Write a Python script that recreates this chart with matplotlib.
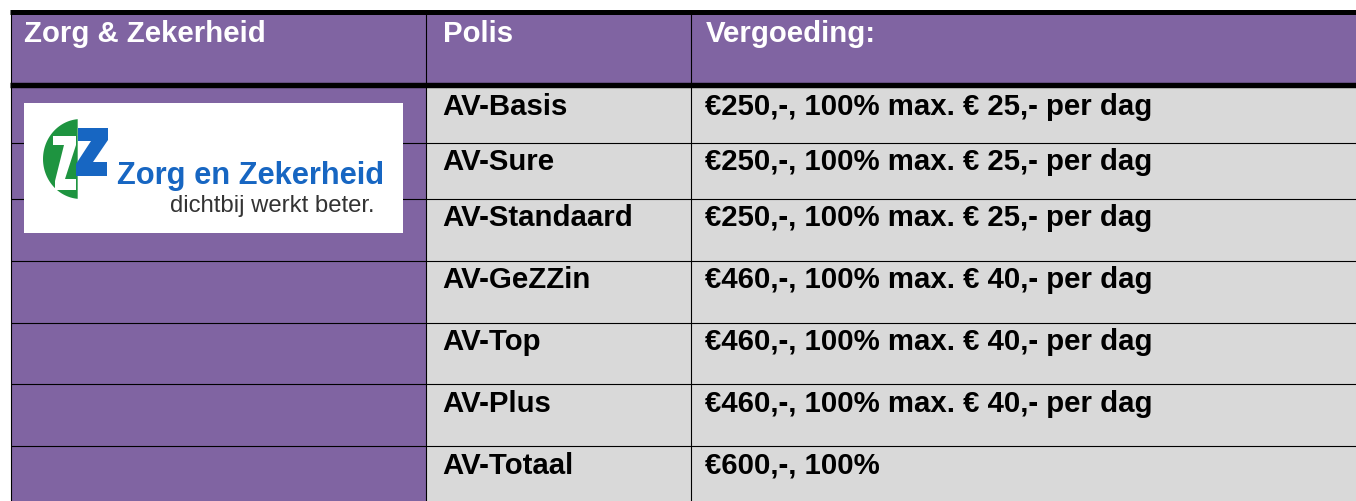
import matplotlib
matplotlib.use("Agg")
import matplotlib.pyplot as plt
from matplotlib.patches import Rectangle, Polygon
import numpy as np

# ---- data ----
headers = ["Zorg & Zekerheid", "Polis", "Vergoeding:"]
polissen = ["AV-Basis", "AV-Sure", "AV-Standaard", "AV-GeZZin", "AV-Top", "AV-Plus", "AV-Totaal"]
vergoedingen = [
    "€250,-, 100% max. € 25,- per dag",
    "€250,-, 100% max. € 25,- per dag",
    "€250,-, 100% max. € 25,- per dag",
    "€460,-, 100% max. € 40,- per dag",
    "€460,-, 100% max. € 40,- per dag",
    "€460,-, 100% max. € 40,- per dag",
    "€600,-, 100%",
]
logo_name = "Zorg en Zekerheid"
logo_slogan = "dichtbij werkt beter."

# ---- layout (pixels) ----
W, H = 1356, 501
PURPLE = "#8064A2"
GRAY = "#D9D9D9"
col_x = [11, 426, 691, W]
header_top, header_bot = 11.5, 84.5
row_tops = [87, 143, 199, 261, 323, 384, 446]
row_bots = row_tops[1:] + [H + 2]
text_x = [24, 442, 705]
FS = 21.2
FONT = "Liberation Sans"

fig = plt.figure(figsize=(W / 100, H / 100), dpi=100)
ax = fig.add_axes([0, 0, 1, 1])
ax.set_xlim(0, W)
ax.set_ylim(H, 0)
ax.axis("off")

# header
ax.add_patch(Rectangle((col_x[0], header_top), W - col_x[0], header_bot - header_top,
                       facecolor=PURPLE, edgecolor="none"))
for i, h in enumerate(headers):
    ax.text(text_x[i] + (1 if i else 0), 42, h, color="white", fontsize=FS, fontweight="bold",
            family=FONT, va="baseline", ha="left")

# body
for r, (t, b) in enumerate(zip(row_tops, row_bots)):
    ax.add_patch(Rectangle((col_x[0], t), col_x[1] - col_x[0], b - t, facecolor=PURPLE, edgecolor="none"))
    ax.add_patch(Rectangle((col_x[1], t), W - col_x[1], b - t, facecolor=GRAY, edgecolor="none"))
    ax.text(text_x[1], t + 27.5, polissen[r], color="black", fontsize=FS, fontweight="bold",
            family=FONT, va="baseline", ha="left")
    ax.text(text_x[2], t + 27.5, vergoedingen[r], color="black", fontsize=FS, fontweight="bold",
            family=FONT, va="baseline", ha="left")

# grid lines
for y in row_tops[1:]:
    ax.plot([col_x[0], W], [y, y], color="black", lw=0.8, solid_capstyle="butt")
for x in col_x[1:3]:
    ax.plot([x, x], [header_top, H], color="black", lw=0.8, solid_capstyle="butt")
ax.plot([col_x[0] - 0.5, col_x[0] - 0.5], [header_top, H], color="black", lw=0.8)
ax.plot([col_x[0] - 1, W], [11.5, 11.5], color="black", lw=3.6, solid_capstyle="butt")
ax.plot([col_x[0] - 1, W], [84.5, 84.5], color="black", lw=3.9, solid_capstyle="butt")

# logo
ax.add_patch(Rectangle((24, 103), 379, 130, facecolor="white", edgecolor="none", zorder=5))
t = np.radians(np.linspace(95, 265, 80))
cx, cy, rx, ry = 81, 159, 38, 40
green = np.column_stack([cx + rx * np.cos(t), cy - ry * np.sin(t)])
ax.add_patch(Polygon(green, closed=True, facecolor="#1E9440", edgecolor="none", zorder=6))
white_z = [(53, 136), (76, 136), (76, 145), (65, 179), (76, 179), (76, 190),
           (55, 190), (55, 181), (64, 145), (53, 145)]
ax.add_patch(Polygon(white_z, closed=True, facecolor="white", edgecolor="none", zorder=7))
blue_z = [(78, 128), (108, 128), (108, 140), (93, 162), (107, 162), (107, 176),
          (76, 176), (76, 164), (91, 141), (78, 141)]
ax.add_patch(Polygon(blue_z, closed=True, facecolor="#1766C2", edgecolor="none", zorder=8))
ax.text(117, 184, logo_name, color="#1766C2", fontsize=22.2, fontweight="bold", family=FONT,
        va="baseline", ha="left", zorder=9)
ax.text(170, 212, logo_slogan, color="#333333", fontsize=17.2, family=FONT,
        va="baseline", ha="left", zorder=9)

fig.savefig("out.png", dpi=100, facecolor="white")
